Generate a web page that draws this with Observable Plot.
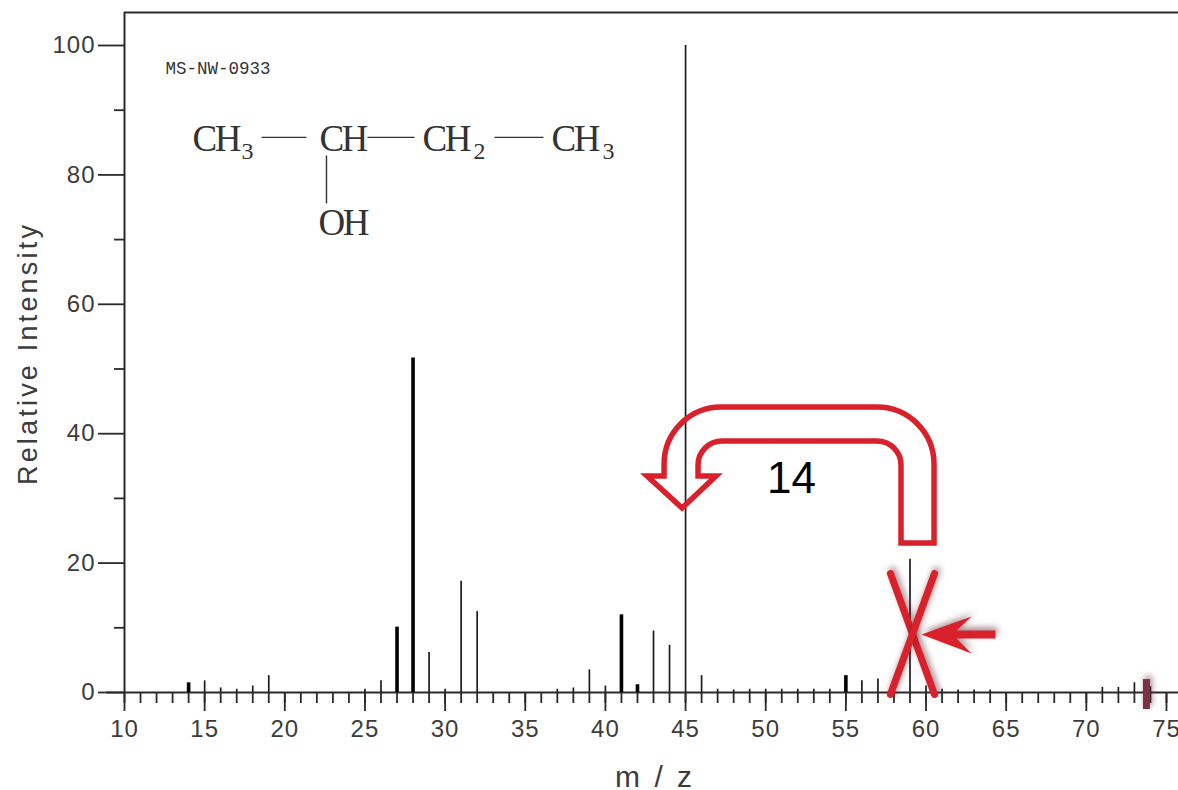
<!DOCTYPE html>
<html>
<head>
<meta charset="utf-8">
<script src="https://cdn.jsdelivr.net/npm/d3@7"></script>
<script src="https://cdn.jsdelivr.net/npm/@observablehq/plot@0.6"></script>
<style>
html,body{margin:0;padding:0;background:#fff;overflow:hidden}
svg{display:block}
.ylab text{letter-spacing:3.2px}
.xlab text{letter-spacing:3px}
.ticklab text{letter-spacing:1px}
.formula text{letter-spacing:-2.5px}
.shadow{filter:drop-shadow(2px -3px 3px rgba(95,35,45,.55))}
</style>
</head>
<body>
<div id="chart"></div>
<script>
// Spectrum: thin peaks
const thinMz =   [15,16,17,18,19,25,26,29,30,31,32,37,38,39,40,43,44,45,46,47,48,49,50,51,52,53,54,56,57,58,59,60,61,62,63,64,71,72,73,74];
const thinInt =  [1.8,0.7,0.5,1.0,2.6,0.5,1.8,6.2,0.5,17.2,12.5,0.5,0.7,3.5,1.0,9.5,7.3,100,2.6,0.5,0.4,0.5,0.5,0.5,0.5,0.5,0.5,1.8,2.1,0.5,20.6,1.0,0.5,0.4,0.4,0.4,0.8,0.8,1.5,0.9];
// Spectrum: heavy peaks
const thickMz =  [14,27,28,41,42,55];
const thickInt = [1.5,10.1,51.7,12.0,1.2,2.6];
// Axes
const xMajor = [10,15,20,25,30,35,40,45,50,55,60,65,70,75];
const xMinor = d3.range(10,76);
const yMajor = [0,20,40,60,80,100];
const yMinor = [10,30,50,70,90];
// Structure text
const formulaLabels = ["CH","CH","CH","CH","OH"];
const formulaX = [14.24,22.16,28.59,36.64,22.1];
const formulaY = [85.6,85.6,85.6,85.6,72.6];
const subLabels = ["3","2","3"];
const subX = [17.3,31.77,39.82];
const subY = [83.6,83.6,83.6];
const bondX1 = [18.55,25.16,33.08,22.6];
const bondX2 = [21.35,28.09,36.14,22.6];
const bondY1 = [85.8,85.8,85.8,83.0];
const bondY2 = [85.8,85.8,85.8,75.6];
// Red annotation shapes (data units)
const bendVerts = [[58.47,23.03,0],[60.53,23.03,0],[60.53,44.05,57],[43.69,44.05,57],[43.69,33.38,0],[42.63,33.38,0],[44.81,28.44,0],[46.93,33.38,0],[45.81,33.38,0],[45.81,38.79,24],[58.47,38.79,24]];
const xLineA = [[57.78,18.39],[60.53,-0.31]];
const xLineB = [[60.53,18.39],[57.78,-0.31]];
const pointer = [[64.33,8.34],[61.9,8.34],[62.84,6.03],[59.72,8.96],[62.84,11.75],[61.9,9.58],[64.33,9.58],[64.33,8.34]];

const ink = "#2a2a2a";
const sans = "'Liberation Sans', Arial, sans-serif";
const red = "#d9202b";

const bend = (index, {x, y}) => {
  const p = d3.path();
  const v = bendVerts.map(([a,b,r]) => [x(a), y(b), r]);
  p.moveTo(v[0][0], v[0][1]);
  for (let i = 1; i < v.length; i++) {
    const [px,py,r] = v[i];
    if (r > 0) {
      const n = v[(i+1) % v.length];
      p.arcTo(px,py,n[0],n[1],r);
    } else p.lineTo(px,py);
  }
  p.closePath();
  const el = d3.create("svg:path").attr("d", p.toString()).attr("fill","none")
    .attr("stroke",red).attr("stroke-width",5.5).attr("stroke-linejoin","miter");
  return el.node();
};

const chart = Plot.plot({
  width: 1178, height: 790,
  marginLeft: 124, marginRight: 0, marginTop: 12, marginBottom: 98,
  style: {fontFamily: sans, background: "#fff", overflow: "visible"},
  x: {domain: [10, 75.75], label: null},
  y: {domain: [0, 105.1], label: null},
  marks: [
    Plot.axisY({ticks: yMajor, tickSize: 26, tickPadding: 3, fontSize: 24, fill: "#3c3c3c", stroke: ink, strokeWidth: 1.8, label: null, className: "ticklab"}),
    Plot.axisY({ticks: yMinor, tickSize: 10, tickFormat: () => "", stroke: ink, strokeWidth: 1.8, label: null}),
    Plot.axisX({ticks: xMajor, tickSize: 19, tickPadding: 8, fontSize: 24, fill: "#3c3c3c", stroke: ink, strokeWidth: 1.8, label: null, className: "ticklab"}),
    Plot.axisX({ticks: xMinor, tickSize: 11, tickFormat: () => "", stroke: ink, strokeWidth: 1.8, label: null}),
    Plot.ruleX([10], {y1: 0, y2: 105.1, stroke: ink, strokeWidth: 2}),
    Plot.ruleY([105.1], {x1: 10, x2: 75.75, stroke: ink, strokeWidth: 2}),
    Plot.ruleY([0], {x1: 8.9, x2: 75.75, stroke: ink, strokeWidth: 1.8}),
    Plot.ruleX(thinMz, {x: d => d, y1: 0, y2: (d,i) => thinInt[i], stroke: "#1c1c1c", strokeWidth: 1.7}),
    Plot.ruleX(thickMz, {x: d => d, y1: 0, y2: (d,i) => thickInt[i], stroke: "#000", strokeWidth: 3.6}),
    Plot.link(bondX1, {x1: d => d, x2: (d,i) => bondX2[i], y1: (d,i) => bondY1[i], y2: (d,i) => bondY2[i], stroke: "#333", strokeWidth: 1.4}),
    Plot.text(formulaLabels, {text: d => d, x: (d,i) => formulaX[i], y: (d,i) => formulaY[i], textAnchor: "start", fontFamily: "'Liberation Serif', serif", fontSize: 37, fill: "#333", className: "formula"}),
    Plot.text(subLabels, {text: d => d, x: (d,i) => subX[i], y: (d,i) => subY[i], textAnchor: "start", fontFamily: "'Liberation Serif', serif", fontSize: 24, fill: "#333"}),
    Plot.text(["MS-NW-0933"], {x: 12.56, y: 96.4, textAnchor: "start", fontFamily: "'Liberation Mono', monospace", fontSize: 17.5, fill: "#333"}),
    Plot.text(["Relative Intensity"], {x: 4.0, y: 52.4, rotate: -90, fontSize: 27, fill: "#3c3c3c", className: "ylab"}),
    Plot.text(["m / z"], {x: 43.1, y: -13.1, fontSize: 30, fill: "#3c3c3c", className: "xlab"}),
    Plot.text(["14"], {x: 51.61, y: 33.08, fontSize: 44, fill: "#000"}),
    bend,
    Plot.line(xLineA, {x: d => d[0], y: d => d[1], stroke: red, strokeWidth: 7, className: "shadow"}),
    Plot.line(xLineB, {x: d => d[0], y: d => d[1], stroke: red, strokeWidth: 7, className: "shadow"}),
    Plot.line(pointer, {x: d => d[0], y: d => d[1], fill: red, stroke: "none", className: "shadow"}),
    Plot.ruleX([73.75], {y1: -2.63, y2: 2.0, stroke: "#7b3048", strokeWidth: 7, className: "shadow"})
  ]
});
document.getElementById("chart").appendChild(chart);
</script>
</body>
</html>
